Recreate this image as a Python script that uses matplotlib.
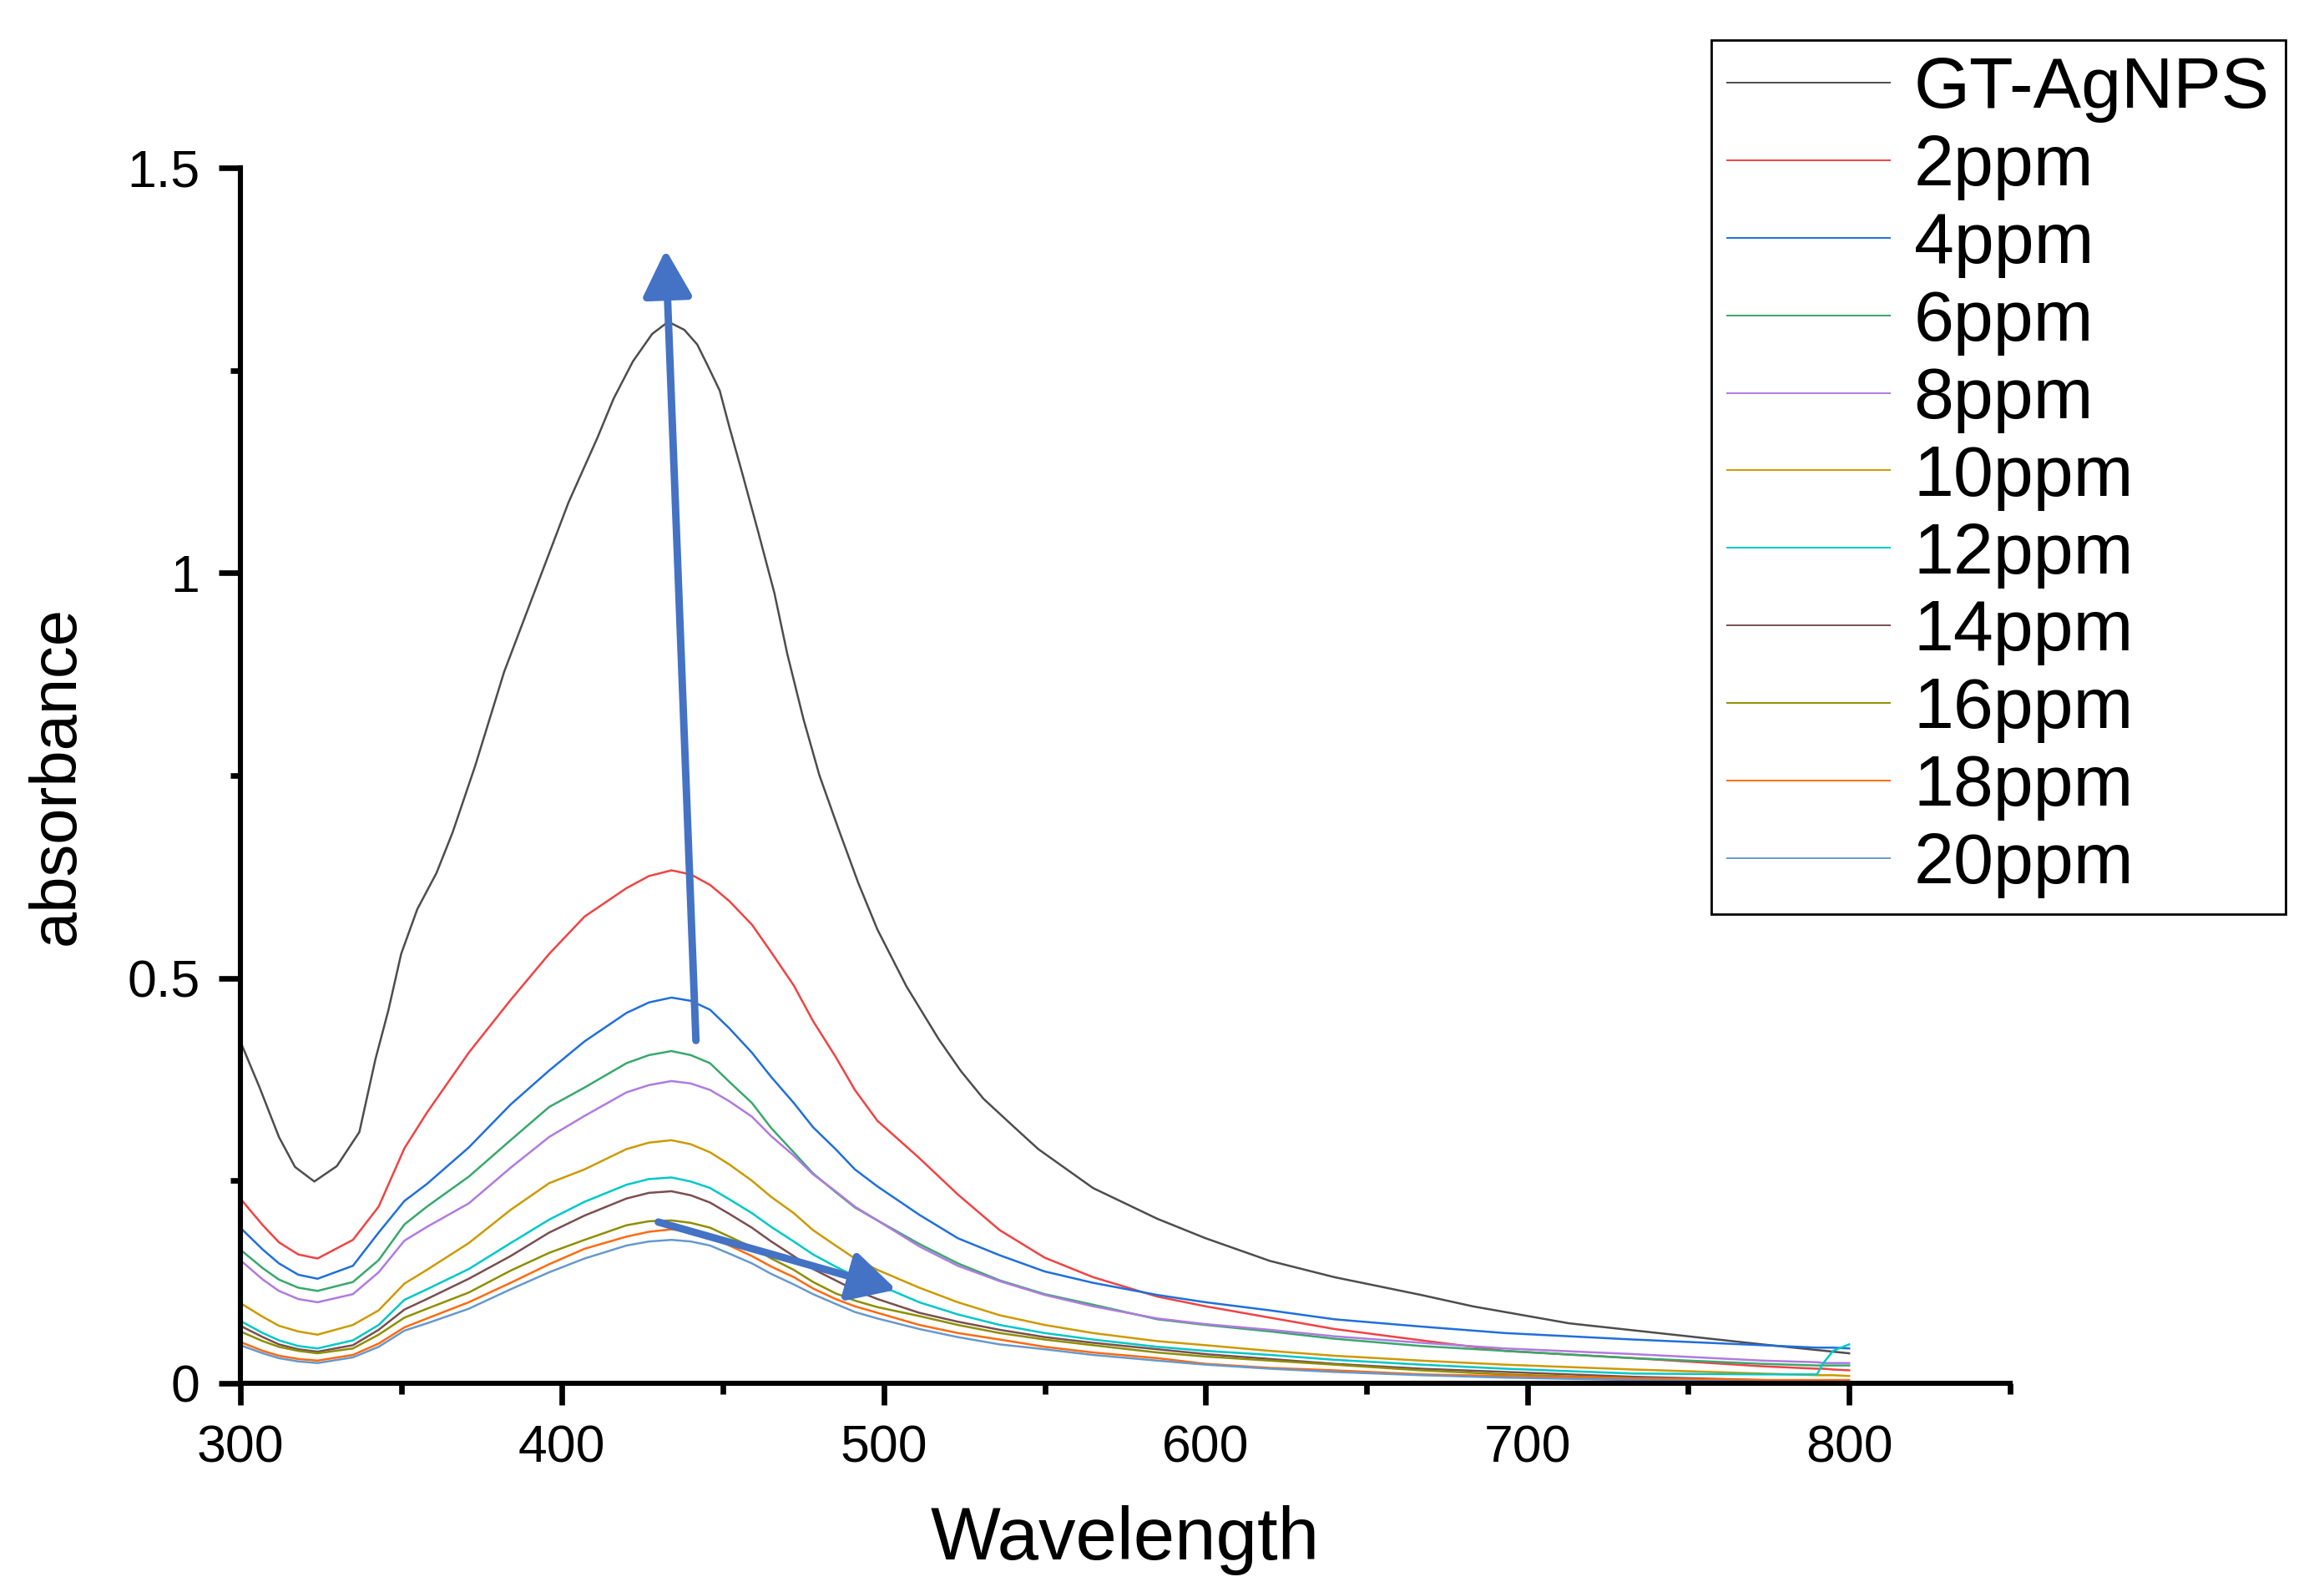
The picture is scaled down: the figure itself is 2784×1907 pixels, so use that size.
import numpy as np
import matplotlib
matplotlib.use("Agg")
import matplotlib.pyplot as plt
from matplotlib.ticker import FixedLocator, FixedFormatter

plt.rcParams['font.family'] = ['Liberation Sans', 'DejaVu Sans']

# GT-AgNPS curve (nm, absorbance)
wl_gt = [300, 306, 312, 317, 323, 330, 337, 342, 346, 350, 355, 361, 366, 373,
         382, 393, 402, 411, 416, 422, 428, 433, 438, 442, 445, 449, 452, 456,
         461, 466, 470, 475, 480, 486, 492, 498, 507, 517, 524, 531, 540, 548,
         565, 585, 600, 620, 640, 667, 683, 713, 743, 773, 800]
abs_gt = [0.422, 0.365, 0.304, 0.267, 0.249, 0.268, 0.310, 0.400, 0.460, 0.530,
          0.585, 0.630, 0.680, 0.762, 0.878, 0.993, 1.087, 1.167, 1.215, 1.261,
          1.295, 1.310, 1.300, 1.282, 1.258, 1.225, 1.180, 1.123, 1.050, 0.975,
          0.900, 0.820, 0.750, 0.683, 0.618, 0.560, 0.490, 0.425, 0.385, 0.351,
          0.318, 0.289, 0.241, 0.203, 0.179, 0.151, 0.131, 0.109, 0.095, 0.074,
          0.061, 0.048, 0.037]

# shared wavelength grid for the dye concentrations
wl = [300, 307, 312, 318, 324, 335, 343, 351, 358, 371, 384, 396, 407, 420, 427,
      434, 440, 446, 452, 459, 465, 472, 478, 485, 491, 498, 511, 523, 536, 550,
      565, 585, 600, 620, 640, 667, 693, 733, 773, 790, 792, 795, 800]

abs_2 = [0.228, 0.195, 0.174, 0.159, 0.154, 0.177, 0.218, 0.290, 0.334, 0.408,
         0.473, 0.530, 0.576, 0.611, 0.626, 0.633, 0.628, 0.615, 0.595, 0.566,
         0.532, 0.491, 0.447, 0.403, 0.362, 0.324, 0.278, 0.233, 0.189, 0.155,
         0.131, 0.107, 0.095, 0.081, 0.067, 0.053, 0.040, 0.031, 0.021, 0.018,
         0.018, 0.017, 0.016]
abs_4 = [0.192, 0.165, 0.148, 0.134, 0.129, 0.145, 0.186, 0.225, 0.246, 0.291,
         0.344, 0.386, 0.422, 0.457, 0.470, 0.476, 0.472, 0.461, 0.438, 0.408,
         0.378, 0.346, 0.316, 0.289, 0.264, 0.243, 0.208, 0.179, 0.158, 0.138,
         0.124, 0.109, 0.100, 0.090, 0.079, 0.070, 0.062, 0.054, 0.047, 0.044,
         0.044, 0.044, 0.043]
abs_6 = [0.165, 0.142, 0.128, 0.118, 0.114, 0.125, 0.152, 0.196, 0.218, 0.255,
         0.300, 0.341, 0.365, 0.395, 0.405, 0.410, 0.405, 0.395, 0.372, 0.346,
         0.315, 0.285, 0.259, 0.236, 0.217, 0.201, 0.172, 0.148, 0.127, 0.110,
         0.097, 0.079, 0.072, 0.064, 0.055, 0.046, 0.040, 0.031, 0.024, 0.022,
         0.022, 0.022, 0.022]
abs_8 = [0.152, 0.128, 0.114, 0.104, 0.100, 0.110, 0.137, 0.176, 0.193, 0.222,
         0.266, 0.304, 0.330, 0.359, 0.368, 0.373, 0.370, 0.362, 0.348, 0.329,
         0.305, 0.281, 0.258, 0.237, 0.218, 0.201, 0.169, 0.145, 0.126, 0.109,
         0.095, 0.080, 0.073, 0.066, 0.058, 0.050, 0.043, 0.036, 0.028, 0.026,
         0.025, 0.025, 0.025]
abs_10 = [0.099, 0.082, 0.071, 0.064, 0.060, 0.072, 0.090, 0.123, 0.140, 0.173,
          0.214, 0.247, 0.264, 0.289, 0.297, 0.300, 0.295, 0.285, 0.270, 0.250,
          0.230, 0.210, 0.189, 0.170, 0.154, 0.140, 0.118, 0.100, 0.084, 0.072,
          0.062, 0.052, 0.047, 0.040, 0.034, 0.028, 0.023, 0.017, 0.012, 0.010,
          0.010, 0.010, 0.009]
abs_12 = [0.077, 0.062, 0.053, 0.046, 0.043, 0.053, 0.072, 0.103, 0.116, 0.141,
          0.173, 0.202, 0.224, 0.245, 0.252, 0.254, 0.249, 0.241, 0.227, 0.210,
          0.193, 0.175, 0.159, 0.144, 0.132, 0.122, 0.100, 0.085, 0.072, 0.062,
          0.054, 0.045, 0.040, 0.035, 0.029, 0.023, 0.018, 0.012, 0.011, 0.011,
          0.025, 0.040, 0.048]
abs_14 = [0.071, 0.057, 0.048, 0.042, 0.039, 0.047, 0.066, 0.091, 0.104, 0.129,
          0.157, 0.186, 0.207, 0.228, 0.235, 0.237, 0.232, 0.223, 0.209, 0.192,
          0.175, 0.157, 0.141, 0.127, 0.115, 0.104, 0.087, 0.076, 0.066, 0.057,
          0.050, 0.042, 0.036, 0.030, 0.024, 0.018, 0.014, 0.008, 0.004, 0.002,
          0.002, 0.002, 0.001]
abs_16 = [0.064, 0.052, 0.045, 0.040, 0.037, 0.043, 0.060, 0.081, 0.092, 0.112,
          0.139, 0.161, 0.177, 0.195, 0.200, 0.201, 0.198, 0.192, 0.181, 0.168,
          0.154, 0.140, 0.125, 0.111, 0.102, 0.094, 0.083, 0.072, 0.062, 0.054,
          0.047, 0.038, 0.033, 0.028, 0.023, 0.016, 0.011, 0.006, 0.003, 0.002,
          0.002, 0.002, 0.001]
abs_18 = [0.051, 0.040, 0.034, 0.030, 0.028, 0.035, 0.049, 0.069, 0.080, 0.100,
          0.124, 0.147, 0.166, 0.181, 0.187, 0.190, 0.187, 0.181, 0.170, 0.157,
          0.144, 0.131, 0.117, 0.104, 0.095, 0.087, 0.072, 0.062, 0.054, 0.045,
          0.038, 0.031, 0.024, 0.019, 0.016, 0.011, 0.009, 0.006, 0.004, 0.004,
          0.004, 0.004, 0.004]
abs_20 = [0.047, 0.037, 0.031, 0.027, 0.025, 0.032, 0.045, 0.065, 0.074, 0.092,
          0.116, 0.137, 0.154, 0.170, 0.175, 0.177, 0.175, 0.170, 0.160, 0.148,
          0.135, 0.122, 0.110, 0.098, 0.088, 0.080, 0.067, 0.057, 0.048, 0.042,
          0.035, 0.028, 0.023, 0.018, 0.014, 0.010, 0.007, 0.004, 0.002, 0.002,
          0.002, 0.002, 0.002]

labels = ["2ppm", "4ppm", "6ppm", "8ppm", "10ppm", "12ppm",
          "14ppm", "16ppm", "18ppm", "20ppm"]
series = [abs_2, abs_4, abs_6, abs_8, abs_10, abs_12, abs_14, abs_16, abs_18, abs_20]
colors = ["#f04343", "#1f6fdc", "#38a86b", "#b07ae0", "#cc9a00", "#00c8c8",
          "#7a4f4f", "#8f8f00", "#ff6a10", "#6699cc"]

# arrows (tail, tip) in data units
arrow_up = ((441.6, 0.423), (432.2, 1.399))
arrow_shift = ((429.9, 0.199), (503.9, 0.1155))

fig = plt.figure(figsize=(13.92, 9.535), dpi=200)
ax = fig.add_axes([0.1034, 0.1311, 0.7615, 0.7635])

ax.plot(wl_gt, abs_gt, color="#4d4d4d", lw=0.9, label="GT-AgNPS")
for vals, lbl, c in zip(series, labels, colors):
    ax.plot(wl, vals, color=c, lw=0.9, label=lbl)

for (tail, tip) in (arrow_up, arrow_shift):
    ax.annotate("", xy=tip, xytext=tail,
                arrowprops=dict(arrowstyle="-|>,head_length=0.85,head_width=0.45",
                                mutation_scale=20, lw=3.2, color="#4472c4",
                                shrinkA=0, shrinkB=0))

ax.set_xlim(300, 850)
ax.set_ylim(0, 1.5)
ax.xaxis.set_major_locator(FixedLocator([300, 400, 500, 600, 700, 800]))
ax.xaxis.set_minor_locator(FixedLocator([350, 450, 550, 650, 750, 850]))
ax.yaxis.set_major_locator(FixedLocator([0, 0.5, 1, 1.5]))
ax.yaxis.set_major_formatter(FixedFormatter(["0", "0.5", "1", "1.5"]))
ax.yaxis.set_minor_locator(FixedLocator([0.25, 0.75, 1.25]))

for s in ("top", "right"):
    ax.spines[s].set_visible(False)
for s in ("left", "bottom"):
    ax.spines[s].set_linewidth(2.2)
ax.tick_params(which="major", direction="out", length=9.5, width=2.4,
               labelsize=22.5, pad=8)
ax.tick_params(which="minor", direction="out", length=4.5, width=2.4)

ax.set_xlabel("Wavelength", fontsize=32, labelpad=14)
ax.set_ylabel("absorbance", fontsize=28, labelpad=17)

leg = ax.legend(loc="upper left", bbox_to_anchor=(0.7363, 0.9748),
                bbox_transform=fig.transFigure, borderaxespad=0,
                fontsize=31, handlelength=2.27, handletextpad=0.33,
                labelspacing=0.15, borderpad=0.22, fancybox=False,
                edgecolor="black", framealpha=1)
leg.get_frame().set_linewidth(1.0)
for ln in leg.get_lines():
    ln.set_linewidth(0.7)

fig.savefig("out.png", dpi=200)
